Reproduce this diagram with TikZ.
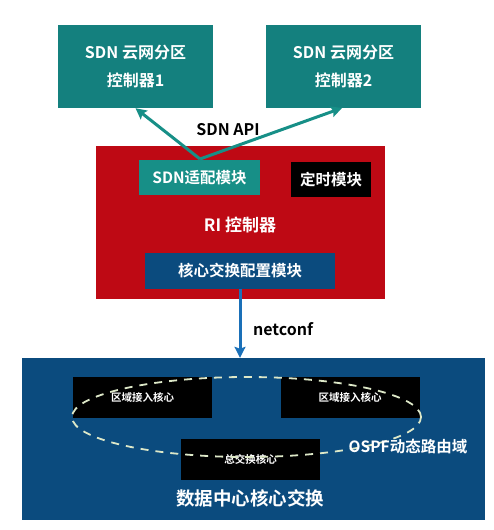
\documentclass[tikz,border=0pt]{standalone}
\usepackage{fontspec}
\setmainfont{Noto Sans CJK SC}[BoldFont={Noto Sans CJK SC Bold}]
\usepackage{xcolor}
\usetikzlibrary{arrows.meta, positioning, shapes.geometric}

\definecolor{teal1}{HTML}{14807E}
\definecolor{teal2}{HTML}{178F87}
\definecolor{redbox}{HTML}{BE0914}
\definecolor{bluebox}{HTML}{0B4B7E}
\definecolor{arrowblue}{HTML}{1A70B8}
\definecolor{dashcol}{HTML}{DDE8C8}

\tikzset{
    ctrlbox/.style={fill=teal1, text=white, font=\bfseries\fontsize{16}{28}\selectfont, align=center, minimum width=155pt, minimum height=83pt, inner sep=0pt},
    modbox/.style={text=white, font=\bfseries\fontsize{15.5}{17}\selectfont, inner sep=0pt},
    corebox/.style={fill=black, text=white, font=\bfseries\fontsize{10.5}{12}\selectfont, minimum width=139pt, minimum height=41pt, inner sep=0pt},
    label/.style={font=\bfseries\fontsize{16}{18}\selectfont},
    link/.style={line width=3pt, -{Stealth[width=11pt,length=11pt,inset=2pt]}}
}

\begin{document}
\begin{tikzpicture}[x=1pt, y=-1pt]
    \useasboundingbox (0,0) rectangle (494,530);

    % Controllers
    \node[ctrlbox] (ctrlA) at (135.5,66.5) {SDN 云网分区\\控制器1};
    \node[ctrlbox] (ctrlB) at (343.5,66.5) {SDN 云网分区\\控制器2};

    % RI controller
    \node[fill=redbox, minimum width=289pt, minimum height=153pt, inner sep=0pt] (ri) at (240.5,222.5) {};
    \node[modbox, fill=teal2, minimum width=121pt, minimum height=35pt] (adapt) at (199.5,177.5) {SDN适配模块};
    \node[modbox, fill=black, minimum width=80pt, minimum height=35pt] (timer) at (331,179.5) {定时模块};
    \node[text=white, font=\bfseries\fontsize{17}{19}\selectfont] (riname) at (240,225) {RI 控制器};
    \node[modbox, fill=bluebox, minimum width=190pt, minimum height=36pt] (config) at (240,271) {核心交换配置模块};

    % Data center core
    \node[fill=bluebox, minimum width=463pt, minimum height=162pt, inner sep=0pt] (dc) at (253.5,439) {};
    \node[corebox] (edgeA) at (142.5,397.5) {区域接入核心};
    \node[corebox] (edgeB) at (350,397.5) {区域接入核心};
    \node[corebox] (core) at (250.5,459.5) {总交换核心};
    \draw[dashcol, line width=1.8pt, dash pattern=on 8pt off 7pt] (246.5,417) ellipse (174.5pt and 40pt);
    \node[modbox] (ospf) at (408,447) {OSPF动态路由域};
    \node[text=white, font=\bfseries\fontsize{18.5}{20}\selectfont] (dcname) at (250,498) {数据中心核心交换};

    % Interfaces
    \coordinate (api) at (200,159);
    \draw[teal2, link] (api) -- (ctrlA.south);
    \draw[teal2, link] (api) -- (342,108);
    \node[label] (apiname) at (228,130) {SDN API};
    \draw[arrowblue, link] (config.south) -- (dc.north -| config.south);
    \node[label] (netconf) at (283,329) {netconf};
\end{tikzpicture}
\end{document}
